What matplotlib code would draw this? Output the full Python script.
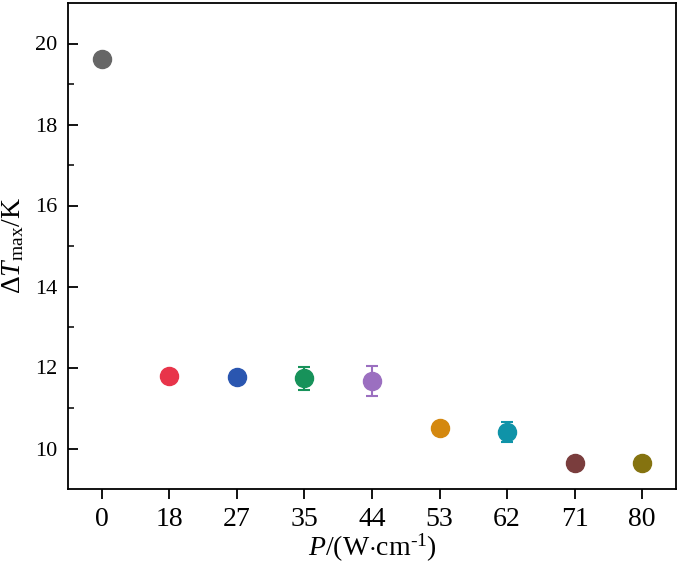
import matplotlib

matplotlib.use("Agg")
import matplotlib.pyplot as plt  # noqa: E402
import numpy as np  # noqa: E402

# Data
power_labels = ["0", "18", "27", "35", "44", "53", "62", "71", "80"]
dt_max = [19.62, 11.79, 11.76, 11.73, 11.66, 10.50, 10.40, 9.63, 9.64]
dt_err = [0.0, 0.0, 0.0, 0.28, 0.37, 0.0, 0.25, 0.0, 0.0]
colors = ["#666666", "#e8344a", "#2a56b0", "#17925a", "#9b6fc0",
          "#d4880f", "#0f93a8", "#7a3d3d", "#857310"]

plt.rcParams["font.family"] = "Liberation Serif"
plt.rcParams["mathtext.fontset"] = "custom"
plt.rcParams["mathtext.rm"] = "Liberation Serif"
plt.rcParams["mathtext.it"] = "Liberation Serif:italic"

fig = plt.figure(figsize=(6.77, 5.66), dpi=100)
ax = fig.add_axes([68 / 677, 1 - 489 / 566, (676 - 68) / 677, (489 - 3) / 566])

x = np.arange(len(power_labels))
for xi, y, e, c in zip(x, dt_max, dt_err, colors):
    if e > 0:
        ax.errorbar(xi, y, yerr=e, fmt="none", ecolor=c, elinewidth=1.5,
                    capsize=4, capthick=1.5, zorder=2)
    ax.plot(xi, y, "o", color=c, markersize=13, zorder=3)

ax.set_xlim(-0.5, 8.5)
ax.set_ylim(9, 21)
ax.set_xticks(x)
ax.set_xticklabels(power_labels)
ax.set_yticks([10, 12, 14, 16, 18, 20])
ax.set_yticks([11, 13, 15, 17, 19], minor=True)
ax.tick_params(axis="x", which="major", direction="out", length=7, width=1.3,
               labelsize=20, pad=6)
ax.tick_params(axis="y", which="major", direction="in", length=7, width=1.3,
               labelsize=16, pad=8)
ax.tick_params(axis="y", which="minor", direction="in", length=4, width=1.1)
for sp in ax.spines.values():
    sp.set_linewidth(1.3)

ax.set_xlabel(r"$\mathit{P}$/(W$\cdot$cm$^{\text{-1}}$)", fontsize=20, labelpad=0)
ax.set_ylabel(r"$\Delta\mathit{T}_{\mathrm{max}}$/K", fontsize=20, labelpad=6)

fig.savefig("out.png", dpi=100)
